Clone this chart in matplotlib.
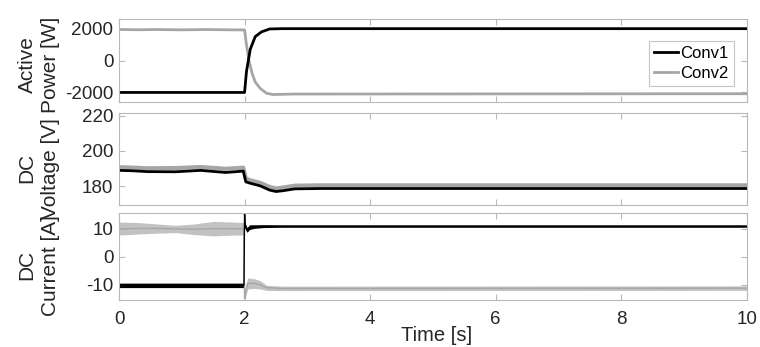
import numpy as np
import matplotlib.pyplot as plt

plt.rcParams['font.family'] = ['Liberation Sans', 'DejaVu Sans']
plt.rcParams['axes.unicode_minus'] = False

# active power [W]
t_p = [0, 0.5, 1.0, 1.5, 1.98, 2.0, 2.03, 2.09, 2.17, 2.27, 2.4, 2.6, 3.0, 10]
p_conv1 = [-2000, -2000, -2000, -2000, -2000, -2000, -700, 700, 1500, 1800, 1980, 2000, 2000, 2000]
t_p2 = [0, 0.3, 0.6, 1.0, 1.4, 1.8, 2.0, 2.03, 2.07, 2.12, 2.17, 2.25, 2.35, 2.45, 2.8, 10]
p_conv2 = [1950, 1930, 1945, 1925, 1945, 1925, 1920, 1000, 0, -800, -1350, -1750, -2050, -2130, -2100, -2080]

# dc voltage [V]
t_v = [0, 0.2, 0.45, 0.9, 1.3, 1.7, 1.98, 2.02, 2.08, 2.25, 2.4, 2.5, 2.6, 2.8, 3.2, 10]
v_conv1 = [189, 188.8, 188.3, 188.2, 189, 187.8, 188.6, 182.5, 181.8, 180.2, 177.8, 177.0, 177.4, 178.5, 178.7, 178.7]
v_conv2 = [190.8, 190.6, 190.2, 190.3, 190.9, 189.9, 190.5, 184.3, 183.5, 181.9, 179.6, 178.7, 179.2, 180.3, 180.5, 180.5]

# dc current [A]: mid line and ripple envelope
t_i1 = [0, 1.99, 2.0, 2.01, 2.04, 2.08, 2.15, 2.3, 2.6, 10]
i1_mid = [-10.2, -10.2, 15.5, 11, 9.5, 10.5, 10.8, 11, 11, 11]
i1_hi = [-9.4, -9.4, 15.5, 12, 10.5, 11.5, 11.5, 11.5, 11.4, 11.4]
i1_lo = [-11.0, -11.0, 15.5, 10, 8.8, 9.8, 10.2, 10.5, 10.6, 10.6]

t_i2 = [0, 0.3, 0.6, 0.9, 1.2, 1.5, 1.8, 1.99, 2.0, 2.02, 2.05, 2.15, 2.25, 2.35, 2.6, 10]
i2_mid = [10, 10.2, 10.2, 10, 9.9, 10.1, 10.1, 10, -15, -12, -9.5, -9.5, -10, -11, -11.3, -11.2]
i2_hi = [12.5, 12.3, 11.8, 11.3, 11.8, 12.7, 12.5, 12.3, -15, -10, -7.5, -7.8, -8.5, -10.2, -10.5, -10.4]
i2_lo = [7.8, 8.2, 8.5, 8.7, 8.0, 7.5, 7.8, 7.8, -15, -14, -11.5, -11.3, -11.5, -12, -12.1, -12]

gray = (0.65, 0.65, 0.65)
boxc = (0.72, 0.72, 0.72)
txtc = '#262626'

fig = plt.figure(figsize=(7.6, 3.47), dpi=100)
ax1 = fig.add_axes([0.1566, 0.706, 0.826, 0.239])
ax2 = fig.add_axes([0.1566, 0.409, 0.826, 0.265])
ax3 = fig.add_axes([0.1566, 0.135, 0.826, 0.251])

ax1.plot(t_p2, p_conv2, color=gray, lw=2, label='Conv2')
ax1.plot(t_p, p_conv1, color='black', lw=2, label='Conv1')
ax1.set_ylim(-2600, 2600)
ax1.set_yticks([-2000, 0, 2000])
h, l = ax1.get_legend_handles_labels()
leg = ax1.legend(h[::-1], l[::-1], loc='upper right', bbox_to_anchor=(0.979, 0.735),
                 fontsize=12, fancybox=False, handlelength=1.4, handletextpad=0.15,
                 borderpad=0.3, labelspacing=0.3, borderaxespad=0)
leg.get_frame().set_edgecolor(boxc)
leg.get_frame().set_linewidth(0.8)

ax2.plot(t_v, v_conv2, color=gray, lw=3)
ax2.plot(t_v, v_conv1, color='black', lw=2)
ax2.set_ylim(169.3, 221.5)
ax2.set_yticks([180, 200, 220])

ax3.fill_between(t_i2, i2_lo, i2_hi, color=(0.76, 0.76, 0.76), lw=0)
ax3.plot(t_i2, i2_mid, color=gray, lw=1)
ax3.fill_between(t_i1, i1_lo, i1_hi, color='black', lw=0)
ax3.plot(t_i1, i1_mid, color='black', lw=1)
ax3.set_ylim(-15.5, 15.7)
ax3.set_yticks([-10, 0, 10])

labels = ['Active\nPower [W]', 'DC\nVoltage [V]', 'DC\nCurrent [A]']
label_y = [0.45, 0.4, 0.4]
for ax, lab, ly in zip([ax1, ax2, ax3], labels, label_y):
    ax.set_xlim(0, 10)
    ax.set_xticks([0, 2, 4, 6, 8, 10])
    ax.tick_params(direction='in', top=True, right=True, length=4.5, width=0.8,
                   color=boxc, labelsize=13.5, labelcolor=txtc, pad=4)
    for s in ax.spines.values():
        s.set_color(boxc)
        s.set_linewidth(0.8)
    ax.set_ylabel(lab, fontsize=15, color=txtc, linespacing=1.3)
    ax.yaxis.set_label_coords(-0.094, ly)

ax1.tick_params(labelbottom=False)
ax2.tick_params(labelbottom=False)
ax3.tick_params(axis='x', pad=8)
ax3.set_xlabel('Time [s]', fontsize=14.5, color=txtc)
ax3.xaxis.set_label_coords(0.506, -0.30)

fig.savefig('out.png', dpi=100)
